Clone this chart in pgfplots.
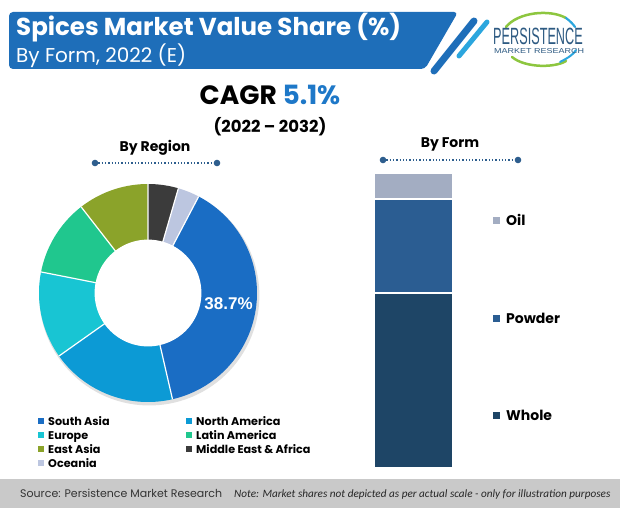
\documentclass[border=0pt]{standalone}
\usepackage{pgfplots}
\pgfplotsset{compat=1.18}
\usepackage{fontspec}
\setmainfont{Poppins}
\newfontfamily\calfont{Carlito}
\newfontfamily\libfont{Liberation Sans}
\definecolor{banner}{HTML}{1E6EB9}
\definecolor{stripe}{HTML}{2BA6DE}
\definecolor{saC}{HTML}{1A6DC4}
\definecolor{naC}{HTML}{0C9AD5}
\definecolor{euC}{HTML}{18C5D3}
\definecolor{laC}{HTML}{20C78E}
\definecolor{eaC}{HTML}{8BA32A}
\definecolor{meC}{HTML}{3B3B3B}
\definecolor{ocC}{HTML}{BCC6E0}
\definecolor{oilC}{HTML}{A3ADC2}
\definecolor{powC}{HTML}{2B5D92}
\definecolor{wholeC}{HTML}{1E4566}
\definecolor{dotC}{HTML}{2E5E8E}
\definecolor{cagrC}{HTML}{1E78C8}
\definecolor{logoC}{HTML}{2D5A82}
\definecolor{logoG}{HTML}{8DC63F}
\definecolor{footC}{HTML}{C9C9C9}
\begin{document}
\begin{tikzpicture}[x=1pt,y=1pt]
\useasboundingbox (0,0) rectangle (620,-508);
\fill[white] (0,0) rectangle (620,-508);
% banner
\fill[banner, rounded corners=4pt] (9,-12) -- (458,-12) -- (425,-69) -- (9,-69) -- cycle;
\draw[banner, line width=7pt, line cap=round] (474,-21) -- (434,-71);
\draw[stripe, line width=5pt, line cap=round] (487,-22) -- (459,-56);
\node[anchor=base west, text=white, inner sep=0pt, font=\bfseries\fontsize{24.5}{24.5}\selectfont] at (16,-36) {Spices Market Value Share (\%)};
\node[anchor=base west, text=white, inner sep=0pt, font=\fontsize{20}{20}\selectfont] at (16,-63) {By Form, 2022 (E)};
% logo
\draw[logoG, line width=2.5pt, line cap=round] (506,-27) .. controls (518,-12) and (550,-9) .. (566,-18);
\draw[stripe, line width=2.2pt, line cap=round] (566,-18) .. controls (570,-21) and (573,-24) .. (575,-27);
\draw[logoG, line width=2.5pt, line cap=round] (512,-57) .. controls (525,-68) and (555,-68) .. (566,-61);
\draw[stripe, line width=2pt, line cap=round] (560,-62) .. controls (568,-58) and (574,-54) .. (576,-50);
\node[anchor=base west, inner sep=0pt, text depth=0pt, text=logoC] at (493,-45) {\scalebox{0.54}[1]{\libfont\fontsize{23.5}{23.5}\selectfont PERSISTENCE}};
\node[anchor=base west, inner sep=0pt, text=logoC] at (494,-54) {\resizebox{90pt}{5pt}{\libfont MARKET RESEARCH}};
% CAGR
\node[anchor=base, inner sep=0pt, font=\bfseries\fontsize{26.5}{26.5}\selectfont] at (270,-105) {CAGR \textcolor{cagrC}{5.1\%}};
\node[anchor=base, inner sep=0pt, font=\bfseries\fontsize{16.5}{16.5}\selectfont] at (270,-132) {(2022 – 2032)};
% section titles
\node[anchor=base, inner sep=0pt, font=\bfseries\fontsize{14}{14}\selectfont] at (155,-151) {By Region};
\draw[dotC, line width=1.3pt, dotted] (95,-163) -- (217,-163);
\fill[dotC] (95,-163) circle (3.3);
\fill[dotC] (217,-163) circle (3.3);
\node[anchor=base, inner sep=0pt, font=\bfseries\fontsize{14}{14}\selectfont] at (450,-147) {By Form};
\draw[dotC, line width=1.3pt, dotted] (383,-160) -- (518,-160);
\fill[dotC] (383,-160) circle (3.3);
\fill[dotC] (518,-160) circle (3.3);
% donut
\begin{axis}[at={(148pt,-293pt)}, anchor=center, scale only axis, width=218pt, height=218pt,
  xmin=-1, xmax=1, ymin=-1, ymax=1, hide axis, clip=false]
\addplot[fill=black!12, draw=none, domain=0:360, samples=120] ({1.01*sin(x)+0.012},{1.01*cos(x)-0.022});
\xdef\cum{27.7}
\foreach \v/\c in {38.7/saC,18.8/naC,12.9/euC,11.4/laC,10.5/eaC,4.5/meC,3.2/ocC}{
  \pgfmathsetmacro\a{\cum}
  \pgfmathsetmacro\b{\cum+3.6*\v}
  \xdef\cum{\b}
  \edef\temp{\noexpand\addplot[fill=\c, draw=none, domain=\a:\b, samples=60] ({sin(x)},{cos(x)}) -- (axis cs:0,0) -- cycle;}
  \temp
}
\xdef\cum{27.7}
\foreach \v in {38.7,18.8,12.9,11.4,10.5,4.5,3.2}{
  \pgfmathsetmacro\a{\cum}
  \pgfmathsetmacro\b{\cum+3.6*\v}
  \xdef\cum{\b}
  \edef\temp{\noexpand\draw[white, line width=1.2pt] (axis cs:0,0) -- (axis cs:{sin(\a)},{cos(\a)});}
  \temp
}
\addplot[fill=white, draw=none, domain=0:360, samples=120] ({0.49*sin(x)},{0.49*cos(x)});
\node[text=white, font=\libfont\bfseries\fontsize{17}{17}\selectfont] at (axis cs:{0.745*sin(97.36)},{0.745*cos(97.36)}) {38.7\%};
\end{axis}
% donut legend
\foreach \c/\t/\x/\y in {saC/South Asia/38/425, naC/North America/186/425, euC/Europe/38/439, laC/Latin America/186/439, eaC/East Asia/38/453, meC/Middle East \& Africa/186/453, ocC/Oceania/38/467}{
  \fill[\c] (\x,-\y+1) rectangle ++(6,6);
  \node[anchor=base west, inner sep=0pt, font=\bfseries\fontsize{11.2}{11.2}\selectfont] at (\x+10,-\y) {\t};
}
% bar
\begin{axis}[at={(374pt,-468pt)}, anchor=south west, scale only axis, width=79pt, height=295pt,
  xmin=0, xmax=1, ymin=0, ymax=100, hide axis, ybar stacked, bar width=79pt, clip=false]
\addplot[fill=wholeC, draw=white, line width=1.2pt] coordinates {(0.5,59.3)};
\addplot[fill=powC, draw=white, line width=1.2pt] coordinates {(0.5,31.9)};
\addplot[fill=oilC, draw=white, line width=1.2pt] coordinates {(0.5,8.8)};
\end{axis}
\foreach \c/\t/\y in {oilC/Oil/225, powC/Powder/323, wholeC/Whole/420}{
  \fill[\c] (493,-\y+1) rectangle ++(7,7);
  \node[anchor=base west, inner sep=0pt, font=\bfseries\fontsize{14}{14}\selectfont] at (506,-\y) {\t};
}
% footer
\fill[footC] (0,-479) rectangle (620,-508);
\node[anchor=base west, inner sep=0pt, text=black!80, font=\fontsize{11}{11}\selectfont] at (20,-497.5) {Source: Persistence Market Research};
\node[anchor=base west, inner sep=0pt, text=black!85, font=\calfont\itshape\fontsize{11.2}{11.2}\selectfont] at (234,-497) {Note: Market shares not depicted as per actual scale - only for illustration purposes};
\end{tikzpicture}
\end{document}
